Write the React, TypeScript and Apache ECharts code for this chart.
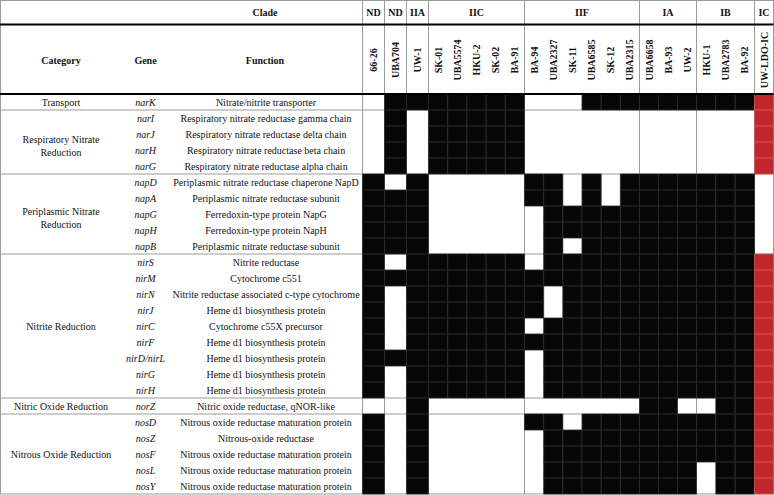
import React, { useEffect, useRef } from "react";
import * as echarts from "echarts";

// ---------- data ----------
const cladeNames = ["ND", "ND", "IIA", "IIC", "IIF", "IA", "IB", "IC"];
const cladeStrains = [
  ["66-26"],
  ["UBA704"],
  ["UW-1"],
  ["SK-01", "UBA5574", "HKU-2", "SK-02", "BA-91"],
  ["BA-94", "UBA2327", "SK-11", "UBA6585", "SK-12", "UBA2315"],
  ["UBA6658", "BA-93", "UW-2"],
  ["HKU-1", "UBA2783", "BA-92"],
  ["UW-LDO-IC"],
];
const categories = [
  "Transport",
  "Respiratory Nitrate\nReduction",
  "Periplasmic Nitrate\nReduction",
  "Nitrite Reduction",
  "Nitric Oxide Reduction",
  "Nitrous Oxide Reduction",
];
const categoryGeneCounts = [1, 4, 5, 9, 1, 5];
const genes = [
  "narK", "narI", "narJ", "narH", "narG",
  "napD", "napA", "napG", "napH", "napB",
  "nirS", "nirM", "nirN", "nirJ", "nirC", "nirF", "nirD/nirL", "nirG", "nirH",
  "norZ",
  "nosD", "nosZ", "nosF", "nosL", "nosY",
];
const functions = [
  "Nitrate/nitrite transporter",
  "Respiratory nitrate reductase gamma chain",
  "Respiratory nitrate reductase delta chain",
  "Respiratory nitrate reductase beta chain",
  "Respiratory nitrate reductase alpha chain",
  "Periplasmic nitrate reductase chaperone NapD",
  "Periplasmic nitrate reductase subunit",
  "Ferredoxin-type protein NapG",
  "Ferredoxin-type protein NapH",
  "Periplasmic nitrate reductase subunit",
  "Nitrite reductase",
  "Cytochrome c551",
  "Nitrite reductase associated c-type cytochrome",
  "Heme d1 biosynthesis protein",
  "Cytochrome c55X precursor",
  "Heme d1 biosynthesis protein",
  "Heme d1 biosynthesis protein",
  "Heme d1 biosynthesis protein",
  "Heme d1 biosynthesis protein",
  "Nitric oxide reductase, qNOR-like",
  "Nitrous oxide reductase maturation protein",
  "Nitrous-oxide reductase",
  "Nitrous oxide reductase maturation protein",
  "Nitrous oxide reductase maturation protein",
  "Nitrous oxide reductase maturation protein",
];
// presence per gene, grouped by clade: ND ND IIA IIC IIF IA IB IC
const presence = [
  "0 1 1 11111 000111 111 111 1", // narK
  "0 1 0 11111 000000 000 000 1", // narI
  "0 1 0 11111 000000 000 000 1", // narJ
  "0 1 0 11111 000000 000 000 1", // narH
  "0 1 0 11111 000000 000 000 1", // narG
  "1 0 1 00000 110101 111 111 0", // napD
  "1 1 1 00000 110101 111 111 0", // napA
  "1 1 1 00000 011111 111 111 0", // napG
  "1 1 1 00000 011111 111 111 0", // napH
  "1 1 1 00000 010111 111 111 0", // napB
  "1 0 1 11111 011111 111 111 1", // nirS
  "1 1 1 11111 111111 111 111 1", // nirM
  "1 0 1 11111 101111 111 111 1", // nirN
  "1 0 1 11111 101111 111 111 1", // nirJ
  "1 0 1 11111 011111 111 111 1", // nirC
  "1 0 1 11111 111111 111 111 1", // nirF
  "1 1 1 11111 011111 111 111 1", // nirD/nirL
  "1 0 1 11111 011111 111 111 1", // nirG
  "1 0 1 11111 011111 111 111 1", // nirH
  "0 0 1 00000 000000 110 011 1", // norZ
  "1 0 1 00000 110111 111 111 1", // nosD
  "1 0 1 00000 011111 111 111 1", // nosZ
  "1 0 1 00000 011111 111 111 1", // nosF
  "1 0 1 00000 011111 111 011 1", // nosL
  "1 0 1 00000 011111 111 011 1", // nosY
];

// ---------- layout ----------
const W = 774;
const H = 495;
const TABLE_LEFT = 362.5;
const GROUP_WIDTHS = [22, 22, 22, 96, 115, 57, 58, 19];
const HEAD1_Y = 24.5;
const HEAD2_Y = 94;
const ROW_H = 16;
const RIGHT = 773.5;
const BOTTOM = HEAD2_Y + ROW_H * 25;
const FONT = "'Liberation Serif', 'Times New Roman', serif";
const BLACK = "#060606";
const RED = "#c1272d";
const GRAY = "#9a9a9a";
const TXT = "#111";
const CAT_X = 61;
const GENE_X = 145.5;
const FUNC_X = 266;

export default function App() {
  const ref = useRef<HTMLDivElement>(null);

  useEffect(() => {
    document.body.style.margin = "0";
    if (!ref.current) return;
    const chart = echarts.init(ref.current, undefined, { renderer: "svg" });

    const strains = cladeStrains.flat();
    // column edges (in px from table left)
    const colEdges: number[] = [0];
    const groupEdges: number[] = [0];
    cladeStrains.forEach((g, gi) => {
      const w = GROUP_WIDTHS[gi] / g.length;
      g.forEach(() => colEdges.push(colEdges[colEdges.length - 1] + w));
      groupEdges.push(groupEdges[groupEdges.length - 1] + GROUP_WIDTHS[gi]);
    });
    const icIndex = strains.length - 1;

    const cells: number[][] = [];
    presence.forEach((row, r) => {
      row.replace(/\s/g, "").split("").forEach((ch, c) => {
        if (ch === "1") cells.push([c, r, 1]);
      });
    });

    const graphics: any[] = [];
    const line = (x1: number, y1: number, x2: number, y2: number, stroke: string, lw: number, z: number) =>
      graphics.push({ type: "line", z, silent: true, shape: { x1, y1, x2, y2 }, style: { stroke, lineWidth: lw } });

    // borders
    line(0, 0.5, RIGHT, 0.5, GRAY, 1, 0);
    line(0.5, 0, 0.5, BOTTOM, GRAY, 1, 0);
    line(0, BOTTOM, RIGHT, BOTTOM, GRAY, 1, 0);
    line(RIGHT, 0, RIGHT, BOTTOM, GRAY, 1, 0);
    // clade group verticals
    groupEdges.forEach((e) => line(TABLE_LEFT + e, 0, TABLE_LEFT + e, BOTTOM, GRAY, 1, 0));
    // category separators
    let cum = 0;
    categoryGeneCounts.forEach((n, i) => {
      const y0 = HEAD2_Y + cum * ROW_H;
      cum += n;
      if (i < categoryGeneCounts.length - 1) line(0, HEAD2_Y + cum * ROW_H, RIGHT, HEAD2_Y + cum * ROW_H, GRAY, 1, 0);
      const multi = categories[i].includes("\n");
      graphics.push({
        type: "text", z: 20, silent: true,
        x: CAT_X, y: (y0 + HEAD2_Y + cum * ROW_H) / 2 + (multi ? 4 : 0),
        style: { text: categories[i], font: `10px ${FONT}`, fill: TXT, align: "center", verticalAlign: "middle", lineHeight: 12.5 },
      });
    });
    // thick header rules
    line(0, HEAD1_Y, RIGHT, HEAD1_Y, "#000", 2, 30);
    line(0, HEAD2_Y, RIGHT, HEAD2_Y, "#000", 2, 30);

    // header texts
    const bold = `bold 10px ${FONT}`;
    const hdr = (text: string, x: number, y: number, rotation = 0) =>
      graphics.push({
        type: "text", z: 20, silent: true, x, y, rotation,
        style: { text, font: bold, fill: TXT, align: "center", verticalAlign: "middle" },
      });
    hdr("Clade", 265, 12.5);
    hdr("Category", CAT_X, 60);
    hdr("Gene", GENE_X, 60);
    hdr("Function", 265, 60);
    cladeNames.forEach((n, gi) => hdr(n, TABLE_LEFT + (groupEdges[gi] + groupEdges[gi + 1]) / 2, 12.5));
    strains.forEach((s, i) => hdr(s, TABLE_LEFT + (colEdges[i] + colEdges[i + 1]) / 2, 60, Math.PI / 2));

    const option: any = {
      animation: false,
      backgroundColor: "#fff",
      grid: { left: TABLE_LEFT, top: HEAD2_Y, width: RIGHT - TABLE_LEFT, height: ROW_H * 25, containLabel: false },
      xAxis: {
        type: "value", min: 0, max: RIGHT - TABLE_LEFT, show: false,
      },
      yAxis: [
        {
          type: "category", data: genes, inverse: true, position: "left",
          axisLine: { show: false }, axisTick: { show: false }, splitLine: { show: false },
          axisLabel: {
            margin: TABLE_LEFT - GENE_X, align: "center", interval: 0,
            fontFamily: FONT, fontSize: 10, fontStyle: "italic", color: TXT,
          },
        },
        {
          type: "category", data: functions, inverse: true, position: "left", offset: 0,
          axisLine: { show: false }, axisTick: { show: false }, splitLine: { show: false },
          axisLabel: {
            margin: TABLE_LEFT - FUNC_X, align: "center", interval: 0,
            fontFamily: FONT, fontSize: 10, color: TXT,
          },
        },
      ],
      series: [
        {
          type: "custom",
          xAxisIndex: 0,
          yAxisIndex: 0,
          z: 5,
          data: cells,
          renderItem: (params: any, api: any) => {
            const c = api.value(0);
            const r = api.value(1);
            const p0 = api.coord([colEdges[c], r]);
            const p1 = api.coord([colEdges[c + 1], r]);
            const h = api.size([0, 1])[1];
            const ic = c === icIndex;
            return {
              type: "rect",
              shape: { x: p0[0], y: p0[1] - h / 2, width: p1[0] - p0[0], height: h },
              style: { fill: ic ? RED : BLACK, stroke: ic ? "#d2585c" : "#2c2c2c", lineWidth: 0.8 },
            };
          },
        },
      ],
      graphic: graphics,
    };
    chart.setOption(option);
    return () => chart.dispose();
  }, []);

  return <div ref={ref} style={{ width: W, height: H }} />;
}
